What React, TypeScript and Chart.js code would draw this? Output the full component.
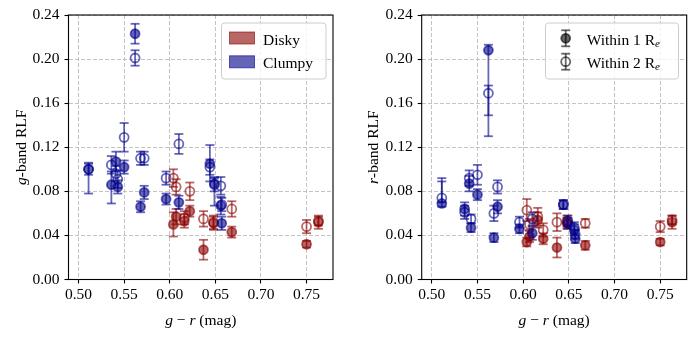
import React, { useEffect, useRef } from "react";
import { Chart, registerables } from "chart.js";
Chart.register(...registerables);

// ---------- data ----------
const xTicks = [0.5, 0.55, 0.6, 0.65, 0.7, 0.75];
const yTicks = [0, 0.04, 0.08, 0.12, 0.16, 0.2, 0.24];

const clumpyColor = [0.511, 0.536, 0.541, 0.543, 0.550, 0.562, 0.568, 0.572, 0.596, 0.610, 0.644, 0.649, 0.656, 0.657];
const clumpyG1 = [0.100, 0.086, 0.107, 0.084, 0.102, 0.223, 0.066, 0.079, 0.073, 0.070, 0.105, 0.087, 0.067, 0.051];
const clumpyG2 = [0.100, 0.104, 0.096, 0.091, 0.129, 0.201, 0.110, 0.110, 0.092, 0.123, 0.102, 0.086, 0.085, 0.068];
const clumpyR1 = [0.069, 0.064, 0.087, 0.047, 0.077, 0.208, 0.038, 0.066, 0.046, 0.042, 0.068, 0.051, 0.045, 0.037];
const clumpyR2 = [0.074, 0.061, 0.092, 0.055, 0.095, 0.169, 0.060, 0.084, 0.052, 0.055, 0.068, 0.053, 0.047, 0.041];
// error: number = symmetric, [lower, upper] = asymmetric
const clumpyG1Err = [[0.022, 0.006], [0.017, 0.012], 0.009, 0.006, 0.006, 0.009, 0.005, 0.006, 0.005, 0.006, [0.016, 0.017], [0.02, 0.006], 0.008, 0.006];
const clumpyG2Err = [0.005, 0.008, 0.007, 0.008, 0.013, 0.007, 0.006, 0.006, 0.006, 0.009, 0.007, 0.006, 0.008, 0.006];
const clumpyR1Err = [[0.003, 0.02], 0.006, 0.007, 0.004, 0.005, [0.078, 0.005], 0.004, 0.006, 0.004, 0.006, 0.004, 0.005, 0.005, 0.004];
const clumpyR2Err = [[0.004, 0.018], 0.006, 0.007, 0.004, 0.009, [0.02, 0.007], 0.007, 0.006, 0.005, 0.006, 0.004, 0.005, 0.005, 0.004];

const diskyColor = [0.604, 0.607, 0.616, 0.622, 0.637, 0.648, 0.668, 0.750, 0.763];
const diskyG1 = [0.050, 0.057, 0.053, 0.062, 0.027, 0.051, 0.043, 0.032, 0.052];
const diskyG2 = [0.092, 0.084, 0.056, 0.080, 0.055, 0.052, 0.064, 0.048, 0.053];
const diskyR1 = [0.034, 0.039, 0.054, 0.037, 0.029, 0.051, 0.031, 0.034, 0.052];
const diskyR2 = [0.063, 0.050, 0.057, 0.045, 0.052, 0.053, 0.051, 0.048, 0.054];
const diskyG1Err = [0.011, 0.007, 0.006, 0.005, 0.009, 0.006, 0.005, 0.003, 0.006];
const diskyG2Err = [0.008, 0.007, 0.006, 0.008, 0.007, 0.006, 0.007, 0.006, 0.004];
const diskyR1Err = [0.004, 0.005, 0.007, 0.005, 0.009, 0.005, 0.004, 0.003, 0.006];
const diskyR2Err = [0.010, 0.005, 0.008, 0.006, 0.008, 0.005, 0.004, 0.005, 0.004];

const legendGroups = ["Disky", "Clumpy"];

// ---------- style ----------
const FONT = "'Liberation Serif', 'Times New Roman', serif";
const FS = 15.5;
const RED = "rgba(139,0,0,0.6)";
const BLUE = "rgba(0,0,139,0.6)";
const BLACK = "rgba(0,0,0,0.6)";
const CAP = 4.5;
const LW = 1.8;
const PR = 4.5;
const XMIN = 0.489;
const XMAX = 0.779;

type Part = { t: string; it?: boolean; size?: number; dy?: number };

function drawParts(ctx: CanvasRenderingContext2D, parts: Part[], x: number, y: number, align: "left" | "center") {
  ctx.save();
  ctx.textBaseline = "alphabetic";
  ctx.textAlign = "left";
  ctx.fillStyle = "#000";
  const fontOf = (p: Part) => `${p.it ? "italic " : ""}${p.size || FS}px ${FONT}`;
  const widths = parts.map((p) => {
    ctx.font = fontOf(p);
    return ctx.measureText(p.t).width;
  });
  const total = widths.reduce((a, b) => a + b, 0);
  let cx = align === "center" ? x - total / 2 : x;
  parts.forEach((p, i) => {
    ctx.font = fontOf(p);
    ctx.fillText(p.t, cx, y + (p.dy || 0));
    cx += widths[i];
  });
  ctx.restore();
}

function pts(xs: number[], ys: number[]) {
  return xs.map((x, i) => ({ x, y: ys[i] }));
}

const errorBarPlugin = {
  id: "errbars",
  beforeDatasetsDraw(chart: any) {
    const { ctx } = chart;
    const xs = chart.scales.x;
    const ys = chart.scales.y;
    const dsets = chart.data.datasets;
    for (let i = dsets.length - 1; i >= 0; i--) {
      const ds = dsets[i];
      if (!ds.errs) continue;
      ctx.save();
      ctx.strokeStyle = ds.borderColor;
      ctx.lineWidth = LW;
      ds.data.forEach((p: any, j: number) => {
        const e = ds.errs[j];
        const lo = Array.isArray(e) ? e[0] : e;
        const hi = Array.isArray(e) ? e[1] : e;
        const px = xs.getPixelForValue(p.x);
        const y1 = ys.getPixelForValue(p.y - lo);
        const y2 = ys.getPixelForValue(p.y + hi);
        ctx.beginPath();
        ctx.moveTo(px, y1);
        ctx.lineTo(px, y2);
        ctx.stroke();
        ctx.beginPath();
        ctx.moveTo(px - CAP, y1);
        ctx.lineTo(px + CAP, y1);
        ctx.stroke();
        ctx.beginPath();
        ctx.moveTo(px - CAP, y2);
        ctx.lineTo(px + CAP, y2);
        ctx.stroke();
      });
      ctx.restore();
    }
  },
};

function roundRect(ctx: CanvasRenderingContext2D, x: number, y: number, w: number, h: number, r: number) {
  ctx.beginPath();
  ctx.moveTo(x + r, y);
  ctx.lineTo(x + w - r, y);
  ctx.arcTo(x + w, y, x + w, y + r, r);
  ctx.lineTo(x + w, y + h - r);
  ctx.arcTo(x + w, y + h, x + w - r, y + h, r);
  ctx.lineTo(x + r, y + h);
  ctx.arcTo(x, y + h, x, y + h - r, r);
  ctx.lineTo(x, y + r);
  ctx.arcTo(x, y, x + r, y, r);
  ctx.closePath();
}

function makeDecorPlugin(kind: "g" | "r") {
  return {
    id: "decor" + kind,
    afterDraw(chart: any) {
      const ctx: CanvasRenderingContext2D = chart.ctx;
      const a = chart.chartArea;
      // frame
      ctx.save();
      ctx.strokeStyle = "#000";
      ctx.lineWidth = 1.1;
      ctx.strokeRect(a.left, a.top, a.right - a.left, a.bottom - a.top);
      ctx.restore();
      // axis titles
      const cx = (a.left + a.right) / 2;
      drawParts(ctx, [{ t: "g", it: true }, { t: " − " }, { t: "r", it: true }, { t: " (mag)" }], cx, 325, "center");
      ctx.save();
      const ty = (a.top + a.bottom) / 2;
      const tx = kind === "g" ? 25.5 : 30;
      ctx.translate(tx, ty);
      ctx.rotate(-Math.PI / 2);
      drawParts(ctx, [{ t: kind, it: true }, { t: "-band RLF" }], 0, 0, "center");
      ctx.restore();
      // legend
      ctx.save();
      if (kind === "g") {
        const lx = 221.5, ly = 23, lw = 104.5, lh = 56;
        roundRect(ctx, lx, ly, lw, lh, 3);
        ctx.fillStyle = "rgba(255,255,255,0.8)";
        ctx.fill();
        ctx.strokeStyle = "rgb(204,204,204)";
        ctx.lineWidth = 1;
        ctx.stroke();
        const cols = [RED, BLUE];
        legendGroups.forEach((name, i) => {
          const py = 32 + i * 23.8;
          ctx.fillStyle = cols[i];
          ctx.fillRect(229.5, py, 25, 12);
          ctx.strokeStyle = cols[i];
          ctx.lineWidth = 1;
          ctx.strokeRect(229.5, py, 25, 12);
          drawParts(ctx, [{ t: name }], 263, py + 12.5, "left");
        });
      } else {
        const lx = 197.5, ly = 23, lw = 133, lh = 56;
        roundRect(ctx, lx, ly, lw, lh, 3);
        ctx.fillStyle = "rgba(255,255,255,0.8)";
        ctx.fill();
        ctx.strokeStyle = "rgb(204,204,204)";
        ctx.lineWidth = 1;
        ctx.stroke();
        [0, 1].forEach((i) => {
          const my = 38.3 + i * 23.4;
          const mx = 217.7;
          ctx.strokeStyle = BLACK;
          ctx.lineWidth = LW;
          ctx.beginPath();
          ctx.moveTo(mx, my - 8);
          ctx.lineTo(mx, my + 8);
          ctx.stroke();
          ctx.beginPath();
          ctx.moveTo(mx - CAP, my - 8);
          ctx.lineTo(mx + CAP, my - 8);
          ctx.stroke();
          ctx.beginPath();
          ctx.moveTo(mx - CAP, my + 8);
          ctx.lineTo(mx + CAP, my + 8);
          ctx.stroke();
          ctx.beginPath();
          ctx.arc(mx, my, PR, 0, Math.PI * 2);
          if (i === 0) {
            ctx.fillStyle = BLACK;
            ctx.fill();
          }
          ctx.stroke();
          drawParts(
            ctx,
            [{ t: `Within ${i + 1} R` }, { t: "e", it: true, size: 11, dy: 2.5 }],
            238.7,
            my + 6.2,
            "left"
          );
        });
      }
      ctx.restore();
    },
  };
}

function makeDataset(xs: number[], ys: number[], errs: any[], color: string, filled: boolean) {
  return {
    data: pts(xs, ys),
    errs,
    borderColor: color,
    backgroundColor: filled ? color : "rgba(0,0,0,0)",
    pointBackgroundColor: filled ? color : "rgba(0,0,0,0)",
    pointBorderColor: color,
    pointRadius: PR,
    pointHoverRadius: PR,
    pointBorderWidth: LW,
    showLine: false,
  };
}

function buildConfig(kind: "g" | "r", yWidth: number, padRight: number) {
  const datasets =
    kind === "g"
      ? [
          makeDataset(clumpyColor, clumpyG1, clumpyG1Err, BLUE, true),
          makeDataset(clumpyColor, clumpyG2, clumpyG2Err, BLUE, false),
          makeDataset(diskyColor, diskyG1, diskyG1Err, RED, true),
          makeDataset(diskyColor, diskyG2, diskyG2Err, RED, false),
        ]
      : [
          makeDataset(clumpyColor, clumpyR1, clumpyR1Err, BLUE, true),
          makeDataset(clumpyColor, clumpyR2, clumpyR2Err, BLUE, false),
          makeDataset(diskyColor, diskyR1, diskyR1Err, RED, true),
          makeDataset(diskyColor, diskyR2, diskyR2Err, RED, false),
        ];
  const gridCommon = {
    color: "rgba(176,176,176,0.75)",
    lineWidth: 1,
    tickLength: 4,
    tickColor: "#000",
    tickWidth: 1.1,
    tickBorderDash: [],
  };
  return {
    type: "scatter" as const,
    data: { datasets },
    options: {
      animation: false,
      responsive: false,
      events: [],
      layout: { padding: { left: 0, top: 15, right: padRight, bottom: 0 } },
      plugins: { legend: { display: false }, tooltip: { enabled: false } },
      scales: {
        x: {
          type: "linear",
          min: XMIN,
          max: XMAX,
          grid: gridCommon,
          border: { display: false, dash: [4, 2] },
          afterBuildTicks: (s: any) => {
            s.ticks = xTicks.map((v) => ({ value: v }));
          },
          afterFit: (s: any) => {
            s.height = 57.5;
          },
          ticks: {
            autoSkip: false,
            maxRotation: 0,
            padding: 2,
            color: "#000",
            font: { family: FONT, size: FS },
            callback: (v: any) => Number(v).toFixed(2),
          },
        },
        y: {
          type: "linear",
          min: 0,
          max: 0.24,
          grid: gridCommon,
          border: { display: false, dash: [4, 2] },
          afterBuildTicks: (s: any) => {
            s.ticks = yTicks.map((v) => ({ value: v }));
          },
          afterFit: (s: any) => {
            s.width = yWidth;
          },
          ticks: {
            autoSkip: false,
            padding: 5,
            color: "#000",
            font: { family: FONT, size: FS },
            callback: (v: any) => Number(v).toFixed(2),
          },
        },
      },
    },
    plugins: [errorBarPlugin, makeDecorPlugin(kind)],
  };
}

function Panel({ kind, left, width, yWidth, padRight }: { kind: "g" | "r"; left: number; width: number; yWidth: number; padRight: number }) {
  const ref = useRef<HTMLCanvasElement | null>(null);
  useEffect(() => {
    if (!ref.current) return;
    const chart = new Chart(ref.current, buildConfig(kind, yWidth, padRight) as any);
    return () => chart.destroy();
  }, [kind, yWidth, padRight]);
  return (
    <div style={{ position: "absolute", left, top: 0, width, height: 337 }}>
      <canvas ref={ref} width={width} height={337} style={{ display: "block" }} />
    </div>
  );
}

export default function App() {
  return (
    <div style={{ position: "absolute", left: 0, top: 0, width: 697, height: 337, background: "#fff" }}>
      <Panel kind="g" left={0} width={348} yWidth={68.5} padRight={15} />
      <Panel kind="r" left={348} width={349} yWidth={73.7} padRight={10.3} />
    </div>
  );
}
